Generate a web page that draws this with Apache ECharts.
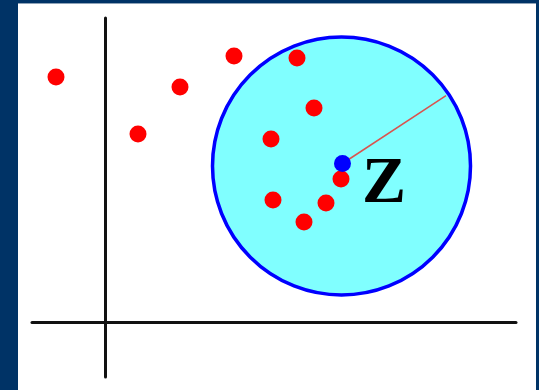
<!DOCTYPE html>
<html>
<head>
<meta charset="utf-8">
<script src="https://cdn.jsdelivr.net/npm/echarts@6/dist/echarts.min.js"></script>
<style>
  html, body { margin: 0; padding: 0; width: 539px; height: 390px; background: #003366; overflow: hidden; }
  #panel { position: absolute; left: 18px; top: 3px; width: 518px; height: 386px; border-top: 1px solid #8fa3b8; background: #ffffff; }
  #chart { width: 518px; height: 386px; }
</style>
</head>
<body>
<div id="panel"><div id="chart"></div></div>
<script>
// Data points (abstract units, origin at axis crossing)
const redX = [-4.9, 7.5, 3.3, 12.9, 19.2, 20.9, 16.6, 23.6, 16.8, 22.1, 19.9];
const redY = [24.5, 23.5, 18.8, 26.6, 26.4, 21.4, 18.3, 14.3, 12.2, 11.9, 10.0];
const circleCenter = [23.65, 15.6];
const circleRadius = 12.9;
const queryPoint = [23.75, 15.85];
const radiusEnd = [34.1, 22.63];
const labelText = 'Z';
const labelPos = [27.9, 13.7];
const xRange = [-7.3, 41.1];
const yRange = [-5.5, 30.4];

const chart = echarts.init(document.getElementById('chart'), null, { renderer: 'canvas' });
const redData = redX.map((x, i) => [x, redY[i]]);

chart.setOption({
  animation: false,
  backgroundColor: '#ffffff',
  grid: { left: 14, right: 20, top: 14, bottom: 13 },
  xAxis: {
    type: 'value', min: xRange[0], max: xRange[1],
    axisLine: { onZero: true, lineStyle: { color: '#111111', width: 3 } },
    axisTick: { show: false }, axisLabel: { show: false }, splitLine: { show: false }
  },
  yAxis: {
    type: 'value', min: yRange[0], max: yRange[1],
    axisLine: { onZero: true, lineStyle: { color: '#111111', width: 3 } },
    axisTick: { show: false }, axisLabel: { show: false }, splitLine: { show: false }
  },
  series: [
    {
      type: 'custom',
      z: 1,
      data: [[circleCenter[0], circleCenter[1], circleRadius]],
      renderItem: function (params, api) {
        const c = api.coord([api.value(0), api.value(1)]);
        const r = api.size([api.value(2), 0])[0];
        return {
          type: 'circle',
          shape: { cx: c[0], cy: c[1], r: r },
          style: { fill: '#80ffff', stroke: '#0000ff', lineWidth: 3.5 }
        };
      }
    },
    {
      type: 'line',
      z: 2,
      data: [queryPoint, radiusEnd],
      symbol: 'none',
      lineStyle: { color: '#d9534f', width: 1.5, opacity: 1 }
    },
    {
      type: 'scatter',
      z: 3,
      data: redData,
      symbol: 'circle',
      symbolSize: 17,
      itemStyle: { color: '#ff0000', opacity: 1 }
    },
    {
      type: 'scatter',
      z: 4,
      data: [queryPoint],
      symbol: 'circle',
      symbolSize: 17,
      itemStyle: { color: '#0000ff', opacity: 1 }
    },
    {
      type: 'scatter',
      z: 5,
      data: [labelPos],
      symbolSize: 0,
      itemStyle: { opacity: 1 },
      label: {
        show: true, position: 'inside', formatter: labelText,
        fontFamily: 'Liberation Serif', fontWeight: 'bold', fontSize: 66,
        color: '#000000', opacity: 1
      }
    }
  ]
});
</script>
</body>
</html>
